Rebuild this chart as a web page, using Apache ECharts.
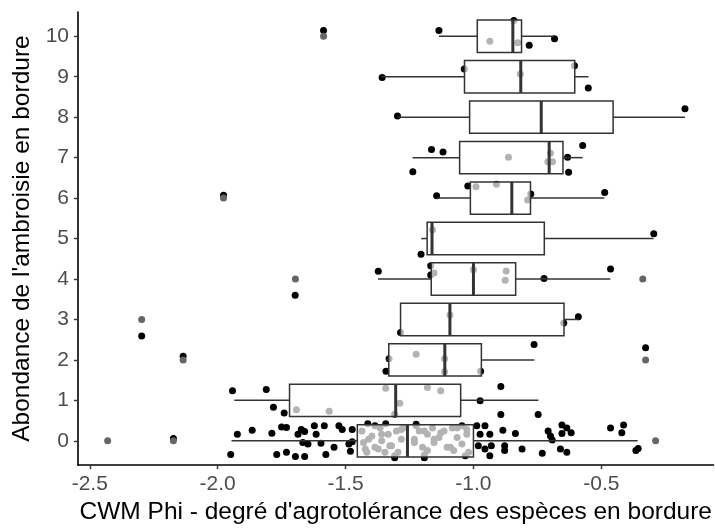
<!DOCTYPE html>
<html>
<head>
<meta charset="utf-8">
<script src="https://cdn.jsdelivr.net/npm/echarts@6/dist/echarts.min.js"></script>
<style>html,body{margin:0;padding:0;background:#fff;}#c{width:715px;height:530px;}</style>
</head>
<body>
<div id="c"></div>
<script>
// Abundance classes (y)
const rows = [0, 1, 2, 3, 4, 5, 6, 7, 8, 9, 10];
const yTicks = [0, 1, 2, 3, 4, 5, 6, 7, 8, 9, 10];
const xTicks = [-2.5, -2.0, -1.5, -1.0, -0.5];
// Box statistics per row
const whiskerLow  = [-1.946, -1.935, -1.342, -1.285, -1.373, -1.204, -1.142, -1.238, -1.296, -1.358, -1.135];
const q1          = [-1.454, -1.719, -1.331, -1.285, -1.165, -1.181, -1.012, -1.054, -1.015, -1.035, -0.985];
const median      = [-1.258, -1.304, -1.112, -1.092, -1.000, -1.162, -0.850, -0.704, -0.735, -0.815, -0.846];
const q3          = [-1.000, -1.050, -0.969, -0.646, -0.835, -0.723, -0.777, -0.650, -0.454, -0.604, -0.812];
const whiskerHigh = [-0.358, -0.746, -0.762, -0.588, -0.465, -0.296, -0.488, -0.573, -0.173, -0.550, -0.685];
// Outliers [CWM Phi, abundance]
const outliers = [[-1.586,10],[-1.977,6],[-1.696,4],[-0.338,4],[-2.297,3],[-2.135,2],[-0.327,2],[-2.43,0],[-2.173,0],[-0.288,0]];
// Jittered observations [CWM Phi, jittered abundance]
const jitter = [
  // 10
  [-1.586,10.14],[-1.135,10.14],[-0.842,10.39],[-0.936,9.88],[-0.827,9.84],[-0.782,9.78],[-0.683,9.94],
  // 9
  [-1.357,8.98],[-1.036,9.19],[-0.817,9.07],[-0.605,9.27],[-0.551,8.72],
  // 8
  [-1.297,8.03],[-0.173,8.21],
  // 7
  [-1.164,7.2],[-1.119,7.14],[-1.237,6.65],[-0.863,7.01],[-0.699,7.11],[-0.709,6.9],[-0.691,6.9],[-0.632,7.01],[-0.628,6.64],[-0.573,7.3],
  // 6
  [-1.977,6.07],[-1.144,6.06],[-1.022,6.3],[-0.99,6.28],[-0.91,6.34],[-0.776,6.1],[-0.788,5.95],[-0.487,6.14],
  // 5
  [-1.16,5.22],[-0.295,5.12],[-1.205,4.61],
  // 4
  [-1.697,3.6],[-1.372,4.19],[-1.167,4.33],[-1.167,4.1],[-1.154,4.15],[-1.0,4.23],[-0.872,4.2],[-0.876,3.97],[-0.724,4.01],[-0.464,4.25],
  // 3
  [-2.297,2.59],[-1.092,3.11],[-1.285,2.68],[-0.647,2.91],[-0.59,3.07],
  // 2
  [-2.135,2.09],[-1.33,2.03],[-1.342,1.72],[-1.224,2.14],[-1.113,2.03],[-1.113,1.71],[-0.972,1.72],[-0.763,2.38],[-0.327,2.3],
  // 1
  [-1.942,1.24],[-1.81,1.27],[-1.782,0.83],[-1.74,0.69],[-1.692,0.77],[-1.564,0.73],[-1.343,1.30],[-1.288,0.93],[-1.308,0.66],
  [-1.18,1.32],[-1.128,1.24],[-0.974,0.99],[-0.893,1.34],[-0.893,0.65],[-0.747,0.65],
  // 0 (left of box)
  [-2.173,0.06],[-1.923,0.16],[-1.949,-0.34],[-1.865,0.26],[-1.788,0.19],[-1.75,0.34],[-1.731,0.33],[-1.769,-0.34],[-1.731,-0.28],
  [-1.696,-0.39],[-1.66,-0.39],[-1.686,0.16],[-1.673,0.28],[-1.66,0.23],[-1.622,0.37],[-1.615,0.16],[-1.583,0.37],[-1.667,-0.04],
  [-1.647,-0.08],[-1.596,-0.06],[-1.577,-0.34],[-1.545,-0.16],[-1.526,0.37],[-1.513,0.28],[-1.487,-0.08],[-1.481,-0.26],
  [-1.474,-0.02],[-1.474,0.28],[-1.413,0.42],[-1.343,0.42],[-1.308,-0.42],[-1.224,0.41],[-1.192,-0.42],
  // 0 (inside box)
  [-1.436,0.24],[-1.43,-0.04],[-1.417,-0.28],[-1.397,0.12],[-1.385,-0.16],[-1.365,0.32],[-1.359,0.0],[-1.346,-0.28],[-1.333,0.16],
  [-1.32,-0.12],[-1.301,0.24],[-1.295,-0.28],[-1.282,0.04],[-1.276,0.32],[-1.231,0.04],[-1.212,0.24],[-1.199,-0.16],[-1.18,0.16],
  [-1.16,0.32],[-1.154,-0.04],[-1.135,0.08],[-1.115,0.24],[-1.103,-0.16],[-1.083,0.32],[-1.077,-0.24],[-1.064,0.08],[-1.064,0.32],
  [-1.045,-0.08],[-1.026,0.16],[-1.019,-0.28],[-1.359,0.16],[-1.327,-0.12],[-1.282,0.28],[-1.224,0.37],[-1.192,0.24],[-1.154,0.04],
  [-1.128,0.2],[-1.09,-0.16],[-1.18,-0.24],[-1.231,-0.04],[-1.026,0.28],[-1.032,-0.37],[-1.372,-0.2],[-1.308,-0.37],[-1.192,-0.35],
  [-1.41,0.04],[-1.423,-0.2],[-1.385,0.37],
  // 0 (right of box)
  [-1.045,0.37],[-0.987,0.37],[-0.955,0.37],[-0.974,0.16],[-0.936,0.16],[-0.981,-0.12],[-0.955,-0.2],[-0.93,-0.12],[-0.936,-0.37],
  [-0.885,0.26],[-0.878,-0.12],[-0.878,-0.24],[-0.836,0.18],[-0.81,-0.2],[-0.731,-0.31],[-0.708,0.24],[-0.699,0.12],[-0.692,0.02],
  [-0.66,-0.2],[-0.635,-0.28],[-0.654,0.39],[-0.635,0.32],[-0.654,0.18],[-0.618,0.2],[-0.464,0.32],[-0.413,0.39],[-0.42,0.2],
  [-0.365,-0.24],[-0.356,-0.19]
];

const boxData = rows.map((r, i) => [r, whiskerLow[i], q1[i], median[i], q3[i], whiskerHigh[i]]);

const FONT = 'Liberation Sans, Arial, sans-serif';
const chart = echarts.init(document.getElementById('c'), null, {renderer: 'canvas'});
chart.setOption({
  animation: false,
  backgroundColor: '#ffffff',
  grid: {left: 78, top: 12, width: 646, height: 458, containLabel: false},
  xAxis: {
    type: 'value', min: -2.546, max: -0.0615,
    name: "CWM Phi - degré d'agrotolérance des espèces en bordure",
    nameLocation: 'middle', nameGap: 30,
    nameTextStyle: {color: '#000', fontSize: 24.5, fontFamily: FONT},
    axisLine: {show: true, onZero: false, lineStyle: {color: '#000', width: 1.6}},
    axisTick: {show: true, length: 4, customValues: xTicks, lineStyle: {color: '#333', width: 1.4}},
    axisLabel: {show: true, customValues: xTicks, margin: 9, color: '#4D4D4D', fontSize: 21, fontFamily: FONT,
      formatter: v => v.toFixed(1)},
    splitLine: {show: false}
  },
  yAxis: {
    type: 'value', min: -0.6, max: 10.6,
    name: "Abondance de l'ambroisie en bordure",
    nameLocation: 'middle', nameGap: 37, nameRotate: 90,
    nameTextStyle: {color: '#000', fontSize: 24.5, fontFamily: FONT},
    axisLine: {show: true, onZero: false, lineStyle: {color: '#000', width: 1.6}},
    axisTick: {show: true, length: 4, customValues: yTicks, lineStyle: {color: '#333', width: 1.4}},
    axisLabel: {show: true, customValues: yTicks, margin: 9, color: '#4D4D4D', fontSize: 21, fontFamily: FONT,
      formatter: v => String(Math.round(v))},
    splitLine: {show: false}
  },
  series: [
    {
      type: 'scatter', data: jitter, symbol: 'circle', symbolSize: 7, z: 2,
      itemStyle: {color: '#000', opacity: 1}, silent: true
    },
    {
      type: 'custom', data: boxData, z: 3, silent: true,
      encode: {x: [1, 2, 3, 4, 5], y: 0},
      renderItem: function (params, api) {
        const y = api.value(0);
        const pLo = api.coord([api.value(1), y]);
        const pA = api.coord([api.value(2), y]);
        const pM = api.coord([api.value(3), y]);
        const pB = api.coord([api.value(4), y]);
        const pHi = api.coord([api.value(5), y]);
        const h = api.size([0, 0.8])[1];
        const ls = {stroke: '#333333', lineWidth: 1.5};
        return {
          type: 'group',
          children: [
            {type: 'line', shape: {x1: pLo[0], y1: pLo[1], x2: pA[0], y2: pA[1]}, style: ls},
            {type: 'line', shape: {x1: pB[0], y1: pB[1], x2: pHi[0], y2: pHi[1]}, style: ls},
            {type: 'rect', shape: {x: pA[0], y: pA[1] - h / 2, width: pB[0] - pA[0], height: h},
              style: {fill: 'rgba(255,255,255,0.7)', stroke: '#333333', lineWidth: 1.5}},
            {type: 'line', shape: {x1: pM[0], y1: pM[1] - h / 2, x2: pM[0], y2: pM[1] + h / 2},
              style: {stroke: '#333333', lineWidth: 3}}
          ]
        };
      }
    },
    {
      type: 'scatter', data: outliers, symbol: 'circle', symbolSize: 7, z: 4,
      itemStyle: {color: '#666666', opacity: 1}, silent: true
    }
  ]
});
</script>
</body>
</html>
